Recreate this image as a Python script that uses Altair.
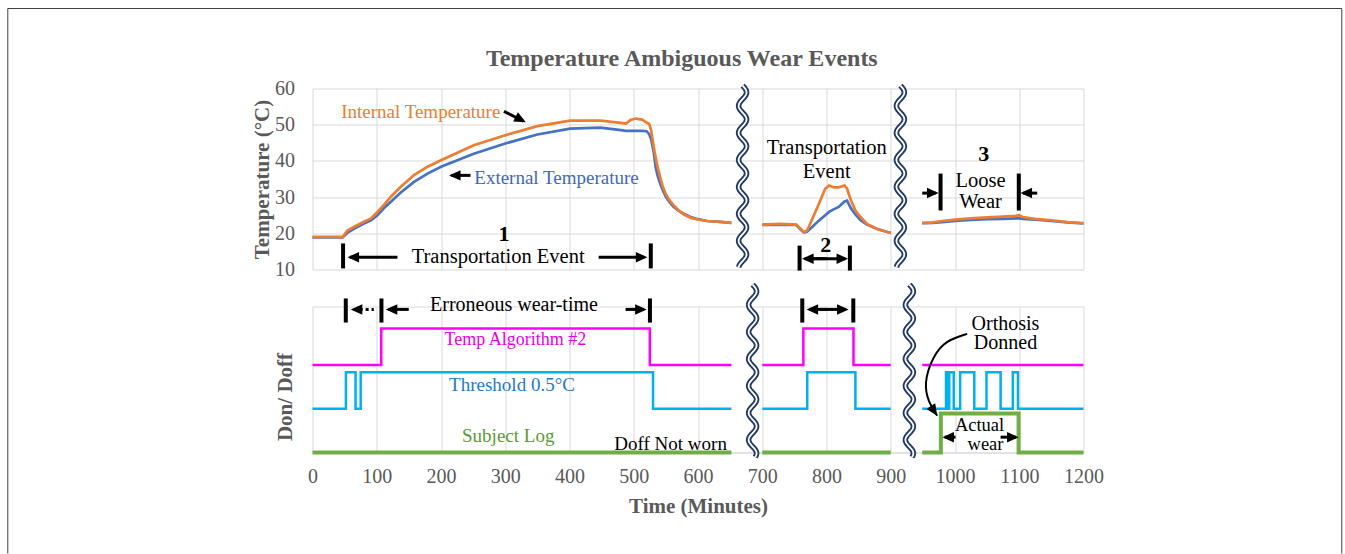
import altair as alt
import pandas as pd
import numpy as np

FONT = "Liberation Serif"
GRID = "#D9D9D9"
GRAY = "#595959"
ORANGE = "#ED7D31"
BLUE = "#4472C4"
MAGENTA = "#FF00FF"
CYAN = "#00B0F0"
GREEN = "#70AD47"
NAVY = "#1F3864"

# ---------------- temperature data (minutes, deg C), three recording segments ----------------
seg1_t = [0, 47, 54, 65, 80, 91, 101, 111, 122, 137, 158, 179, 200, 251, 300, 350, 401, 448, 480, 488,
          495, 503, 513, 520, 524, 527, 531, 534, 537, 541, 545, 550, 556, 562, 570, 578, 590, 600, 614, 630, 652]
seg1_int = [19.0, 19.0, 20.7, 21.8, 23.2, 24.1, 25.9, 27.8, 30.1, 32.8, 36.1, 38.4, 40.2, 44.3, 47.1, 49.6, 51.1, 51.1, 50.5, 50.3,
            51.3, 51.7, 51.4, 50.6, 50.2, 48.5, 43.9, 41.0, 38.4, 35.5, 33.0, 30.8, 29.0, 27.8, 26.3, 25.2, 24.2, 23.8, 23.4, 23.2, 22.9]
seg1_ext = [18.9, 18.9, 20.1, 21.3, 22.7, 23.6, 25.0, 26.9, 28.7, 31.2, 34.2, 36.5, 38.4, 42.0, 44.8, 47.3, 48.9, 49.2, 48.5, 48.3,
            48.3, 48.3, 48.3, 48.2, 47.4, 46.0, 42.5, 38.4, 36.0, 33.8, 32.0, 30.1, 28.5, 27.3, 26.2, 25.4, 24.4, 23.9, 23.4, 23.2, 22.9]

seg2_t = [700, 728, 753, 760, 765, 770, 778, 788, 798, 804, 811, 819, 828, 832, 838, 845, 853, 863, 879, 900]
seg2_int = [22.4, 22.6, 22.4, 21.2, 20.3, 20.8, 24.0, 28.1, 32.3, 33.2, 32.7, 32.7, 33.2, 32.3, 29.1, 26.3, 24.5, 22.6, 21.2, 20.1]
seg2_ext = [22.3, 22.4, 22.3, 21.0, 20.2, 20.5, 21.8, 23.5, 25.0, 25.9, 26.6, 27.3, 28.8, 29.0, 26.9, 25.2, 23.6, 22.4, 21.2, 20.1]

seg3_t = [949, 965, 980, 1000, 1025, 1050, 1075, 1095, 1100, 1105, 1125, 1150, 1175, 1200]
seg3_int = [22.8, 23.0, 23.4, 23.8, 24.1, 24.4, 24.6, 24.8, 25.0, 24.5, 24.0, 23.6, 23.1, 22.8]
seg3_ext = [22.8, 22.9, 23.1, 23.4, 23.7, 23.9, 24.0, 24.1, 24.1, 24.0, 23.8, 23.4, 23.0, 22.7]

# ---------------- don/doff step data (change times, on/off state) ----------------
alg_t = [[0, 107, 525, 652], [700, 764, 842, 900], [949, 1200]]
alg_s = [[0, 1, 0, 0], [0, 1, 0, 0], [0, 0]]
thr_t = [[0, 52, 67, 75, 530, 652], [700, 770, 845, 900],
         [949, 986, 989, 991, 998, 1008, 1030, 1049, 1071, 1090, 1098, 1200]]
thr_s = [[0, 1, 0, 1, 0, 0], [0, 1, 0, 0], [0, 1, 0, 1, 0, 1, 0, 1, 0, 1, 0, 0]]
log_t = [[0, 652], [700, 900], [949, 978, 1099, 1200]]
log_s = [[0, 0], [0, 0], [0, 1, 0, 0]]
alg_base, alg_amp = 2.4, 1.0
thr_base, thr_amp = 1.2, 1.0
log_base, log_amp = 0.0, 1.07

X_TICKS = list(range(0, 1201, 100))
Y_TICKS = [10, 20, 30, 40, 50, 60]

# ---------------- annotations (in data units) ----------------
top_text = ["Transportation Event", "Transportation", "Event", "Loose", "Wear",
            "Internal Temperature", "External Temperature"]
top_text_x = [289, 800.3, 800.3, 1039.7, 1039.7, 168.5, 379.8]
top_text_y = [13.4, 43.7, 36.9, 34.4, 28.6, 53.45, 35.3]
top_text_col = ["#000000"] * 5 + [ORANGE, "#3F68B8"]
top_text_size = [20.5, 20.5, 20.5, 20.5, 20.5, 19, 19]

top_bold = ["1", "2", "3"]
top_bold_x = [298.1, 799, 1044.9]
top_bold_y = [19.7, 16.9, 42.0]

top_rule_x = [47.6, 526.5, 758.1, 836.4, 977.5, 1099.3]
top_rule_y = [10.3, 10.3, 9.7, 9.7, 26.3, 26.3]
top_rule_y2 = [17.2, 17.2, 16.6, 16.6, 36.5, 36.5]

top_shaft_x = [58, 445.4, 766, 770, 949, 1106, 298, 216]
top_shaft_x2 = [132.2, 516, 800, 829, 970, 1128, 328, 245.9]
top_shaft_y = [13.4, 13.4, 13.0, 13.0, 31.1, 31.1, 53.7, 36.0]
top_shaft_y2 = [13.4, 13.4, 13.0, 13.0, 31.1, 31.1, 51.0, 36.0]

top_head_x = [54.5, 521.2, 762.0, 833.6, 974.4, 1102, 332, 212.5]
top_head_y = [13.4, 13.4, 13.0, 13.0, 31.1, 31.1, 50.7, 36.0]
top_head_a = [180, 0, 180, 0, 0, 180, 27, 180]

bot_text = ["Erroneous wear-time", "Orthosis", "Donned", "Doff Not worn", "Actual", "wear",
            "Temp Algorithm #2", "Threshold 0.5°C", "Subject Log"]
bot_text_x = [313.6, 1078.6, 1078.6, 557.4, 1038.2, 1047.5, 315.8, 310.5, 304.6]
bot_text_y = [4.03, 3.53, 2.99, 0.24, 0.75, 0.22, 3.07, 1.86, 0.44]
bot_text_col = ["#000000"] * 6 + ["#E600E6", "#1C7ACB", "#5A9A36"]
bot_text_size = [20, 20, 20, 19, 18.5, 18.5, 18, 19, 19]

bot_rule_x = [51.8, 107.3, 525.2, 762.3, 841.7]
bot_rule_y = [3.56] * 5
bot_rule_y2 = [4.22] * 5

bot_shaft_x = [118, 487.3, 773, 790, 984, 1070.9]
bot_shaft_x2 = [149.8, 516, 800, 830, 1000.8, 1095]
bot_shaft_y = [3.92, 3.92, 3.92, 3.92, 0.42, 0.42]

bot_dot_x, bot_dot_x2, bot_dot_y = [64], [95.4], [3.92]

bot_head_x = [59.6, 114, 520.1, 769, 834.4, 980.4, 1099.0, 972.4]
bot_head_y = [3.92, 3.92, 3.92, 3.92, 3.92, 0.42, 0.42, 1.01]
bot_head_a = [180, 180, 0, 180, 0, 180, 0, 56]

curve_x = [1019, 985.3, 964.6, 951.5, 958.8, 972.4]
curve_y = [3.25, 3.07, 2.61, 1.88, 1.37, 1.01]

# axis-break glyph positions (minutes)
brk_top_x = [669.4, 915.0]
brk_bot_x = [685.0, 929.0]

TITLE = "Temperature Ambiguous Wear Events"

# ---------------- build tables ----------------
def temp_table(ts, vs):
    rows = []
    for seg, (t, v) in enumerate(zip(ts, vs)):
        for a, b in zip(t, v):
            rows.append({"x": a, "y": b, "seg": seg})
    return pd.DataFrame(rows)

int_df = temp_table([seg1_t, seg2_t, seg3_t], [seg1_int, seg2_int, seg3_int])
ext_df = temp_table([seg1_t, seg2_t, seg3_t], [seg1_ext, seg2_ext, seg3_ext])

def step_table(ts, ss, base, amp):
    rows = []
    for seg, (t, s) in enumerate(zip(ts, ss)):
        for a, b in zip(t, s):
            rows.append({"x": a, "y": base + amp * b, "seg": seg})
    return pd.DataFrame(rows)

alg_df = step_table(alg_t, alg_s, alg_base, alg_amp)
thr_df = step_table(thr_t, thr_s, thr_base, thr_amp)
log_df = step_table(log_t, log_s, log_base, log_amp)

PX_PER_MIN = 771.0 / 1200.0
PX_PER_DEG = 181.0 / 50.0
PX_PER_UNIT = 146.0 / 4.0

def wave_table(centers, y_top, y_bot, px_per_y):
    rows = []
    for w, c in enumerate(centers):
        n = int((y_top - y_bot) * px_per_y / 1.5)
        for i in range(n + 1):
            p = i * 1.5
            yy = y_top - p / px_per_y
            xx = c + 4.0 * np.sin(2 * np.pi * p / 27.0) / PX_PER_MIN
            rows.append({"x": xx, "y": yy, "wave": w, "i": i})
    return pd.DataFrame(rows)

wave_top = wave_table(brk_top_x, 60.8, 10.3, PX_PER_DEG)
wave_bot = wave_table(brk_bot_x, 4.6, -0.16, PX_PER_UNIT)

# ---------------- scales / axes ----------------
XS = alt.Scale(domain=[0, 1200], nice=False, zero=False)
YT = alt.Scale(domain=[10, 60], nice=False, zero=False)
YB = alt.Scale(domain=[0, 4], nice=False, zero=False)

top_x_axis = alt.Axis(values=X_TICKS, labels=False, ticks=False, domain=False, grid=True,
                      gridColor=GRID, title=None)
top_y_axis = alt.Axis(values=Y_TICKS, grid=True, gridColor=GRID, domain=False, ticks=False,
                      labelFont=FONT, labelFontSize=20, labelColor=GRAY, labelPadding=18,
                      labelFlush=False,
                      title="Temperature (°C)", titleFont=FONT, titleFontSize=21, titleFontWeight="bold",
                      titleColor=GRAY, titleAngle=270, titleX=-50, titleBaseline="middle")
bot_x_axis = alt.Axis(values=X_TICKS, grid=True, gridColor=GRID, domain=True, domainColor=GRID,
                      ticks=False, format="d", labelFont=FONT, labelFontSize=20, labelColor=GRAY,
                      labelPadding=14, labelFlush=False, labelOverlap=False,
                      title="Time (Minutes)", titleFont=FONT, titleFontSize=21,
                      titleFontWeight="bold", titleColor=GRAY, titleY=54, titleBaseline="middle")
bot_y_axis = alt.Axis(values=[0, 4], grid=True, gridColor=GRID, domain=False, ticks=False, labels=False,
                      title="Don/ Doff", titleFont=FONT, titleFontSize=21, titleFontWeight="bold",
                      titleColor=GRAY, titleAngle=270, titleX=-27, titleY=90, titleBaseline="middle")

def TX(): return alt.X("x:Q", scale=XS, axis=top_x_axis)
def TY(): return alt.Y("y:Q", scale=YT, axis=top_y_axis)
def BX(): return alt.X("x:Q", scale=XS, axis=bot_x_axis)
def BY(): return alt.Y("y:Q", scale=YB, axis=bot_y_axis)

HEAD = "M0,0 L-2.2,-1 L-2.2,1 Z"

# ---------------- top panel ----------------
t_ext = alt.Chart(ext_df).mark_line(color=BLUE, strokeWidth=2.7).encode(x=TX(), y=TY(), detail="seg:N")
t_int = alt.Chart(int_df).mark_line(color=ORANGE, strokeWidth=2.7).encode(x=TX(), y=TY(), detail="seg:N")

ttxt = pd.DataFrame({"x": top_text_x, "y": top_text_y, "text": top_text, "c": top_text_col, "s": top_text_size})
t_text = alt.Chart(ttxt).mark_text(font=FONT, baseline="middle").encode(
    x=TX(), y=TY(), text="text:N", color=alt.Color("c:N", scale=None), size=alt.Size("s:Q", scale=None))
tbold = pd.DataFrame({"x": top_bold_x, "y": top_bold_y, "text": top_bold})
t_bold = alt.Chart(tbold).mark_text(font=FONT, fontSize=22, fontWeight="bold", color="black",
                                    baseline="middle").encode(x=TX(), y=TY(), text="text:N")
tbar = pd.DataFrame({"x": top_rule_x, "y": top_rule_y, "y2": top_rule_y2})
t_bar = alt.Chart(tbar).mark_rule(color="black", strokeWidth=4).encode(x=TX(), y=TY(), y2="y2:Q")
tsh = pd.DataFrame({"x": top_shaft_x, "x2": top_shaft_x2, "y": top_shaft_y, "y2": top_shaft_y2})
t_sh = alt.Chart(tsh).mark_rule(color="black", strokeWidth=3).encode(x=TX(), x2="x2:Q", y=TY(), y2="y2:Q")
thd = pd.DataFrame({"x": top_head_x, "y": top_head_y, "a": top_head_a})
t_hd = alt.Chart(thd).mark_point(shape=HEAD, filled=True, size=110, color="black", opacity=1,
                                 strokeWidth=0).encode(x=TX(), y=TY(), angle=alt.Angle("a:Q", scale=None))
t_w1 = alt.Chart(wave_top).mark_line(color=NAVY, strokeWidth=5.5).encode(
    x=TX(), y=TY(), detail="wave:N", order="i:Q")
t_w2 = alt.Chart(wave_top).mark_line(color="white", strokeWidth=1.8).encode(
    x=TX(), y=TY(), detail="wave:N", order="i:Q")

title_df = pd.DataFrame({"text": [TITLE]})
t_title = alt.Chart(title_df).mark_text(font=FONT, fontSize=24, fontWeight="bold", color=GRAY,
                                        baseline="middle").encode(
    x=alt.value(369.3), y=alt.value(-30), text="text:N")

frame_df = pd.DataFrame({"k": [0]})
fr_l = alt.Chart(frame_df).mark_rule(color="#404040", strokeWidth=1).encode(
    x=alt.value(-304.7), y=alt.value(-80), y2=alt.value(465))
fr_r = alt.Chart(frame_df).mark_rule(color="#404040", strokeWidth=1).encode(
    x=alt.value(1029.3), y=alt.value(-80), y2=alt.value(465))
fr_t = alt.Chart(frame_df).mark_rule(color="#404040", strokeWidth=1).encode(
    x=alt.value(-304.7), x2=alt.value(1029.3), y=alt.value(-80))

top = alt.layer(t_ext, t_int, t_w1, t_w2, t_bar, t_sh, t_hd, t_text, t_bold, t_title,
                fr_l, fr_r, fr_t).properties(width=771, height=181)

# ---------------- bottom panel ----------------
b_alg = alt.Chart(alg_df).mark_line(color=MAGENTA, strokeWidth=2.5, interpolate="step-after").encode(
    x=BX(), y=BY(), detail="seg:N")
b_thr = alt.Chart(thr_df).mark_line(color=CYAN, strokeWidth=2.5, interpolate="step-after").encode(
    x=BX(), y=BY(), detail="seg:N")
b_log = alt.Chart(log_df).mark_line(color=GREEN, strokeWidth=4, interpolate="step-after").encode(
    x=BX(), y=BY(), detail="seg:N")

btxt = pd.DataFrame({"x": bot_text_x, "y": bot_text_y, "text": bot_text, "c": bot_text_col, "s": bot_text_size})
b_text = alt.Chart(btxt).mark_text(font=FONT, baseline="middle").encode(
    x=BX(), y=BY(), text="text:N", color=alt.Color("c:N", scale=None), size=alt.Size("s:Q", scale=None))
bbar = pd.DataFrame({"x": bot_rule_x, "y": bot_rule_y, "y2": bot_rule_y2})
b_bar = alt.Chart(bbar).mark_rule(color="black", strokeWidth=4).encode(x=BX(), y=BY(), y2="y2:Q")
bsh = pd.DataFrame({"x": bot_shaft_x, "x2": bot_shaft_x2, "y": bot_shaft_y})
b_sh = alt.Chart(bsh).mark_rule(color="black", strokeWidth=3).encode(x=BX(), x2="x2:Q", y=BY())
bdot = pd.DataFrame({"x": bot_dot_x, "x2": bot_dot_x2, "y": bot_dot_y})
b_dot = alt.Chart(bdot).mark_rule(color="black", strokeWidth=3, strokeDash=[3, 3]).encode(
    x=BX(), x2="x2:Q", y=BY())
bhd = pd.DataFrame({"x": bot_head_x, "y": bot_head_y, "a": bot_head_a})
b_hd = alt.Chart(bhd).mark_point(shape=HEAD, filled=True, size=110, color="black", opacity=1,
                                 strokeWidth=0).encode(x=BX(), y=BY(), angle=alt.Angle("a:Q", scale=None))
cdf = pd.DataFrame({"x": curve_x, "y": curve_y, "i": list(range(len(curve_x)))})
b_curve = alt.Chart(cdf).mark_line(color="black", strokeWidth=2, interpolate="basis").encode(
    x=BX(), y=BY(), order="i:Q")
b_w1 = alt.Chart(wave_bot).mark_line(color=NAVY, strokeWidth=5.5).encode(
    x=BX(), y=BY(), detail="wave:N", order="i:Q")
b_w2 = alt.Chart(wave_bot).mark_line(color="white", strokeWidth=1.8).encode(
    x=BX(), y=BY(), detail="wave:N", order="i:Q")

bottom = alt.layer(b_alg, b_thr, b_log, b_w1, b_w2, b_bar, b_sh, b_dot, b_hd, b_curve, b_text
                   ).properties(width=771, height=146)

chart = alt.vconcat(top, bottom, spacing=37, bounds="flush").resolve_scale(
    x="independent", y="independent"
).properties(
    padding={"left": 6.5, "top": 7.5, "right": 0, "bottom": 0},
    background="white",
).configure_view(stroke=None)

chart.save("out.html", embed_options={"renderer": "svg", "actions": False})
